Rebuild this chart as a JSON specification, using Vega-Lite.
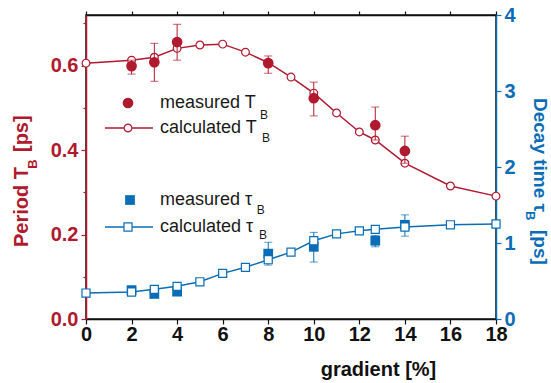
{
  "$schema": "https://vega.github.io/schema/vega-lite/v6.json",
  "width": 410,
  "height": 304,
  "autosize": {"type": "none"},
  "padding": {"left": 86, "top": 15, "right": 55, "bottom": 64},
  "background": "white",
  "config": {"view": {"stroke": "#111111", "strokeWidth": 1.5}, "font": "Liberation Sans", "axis": {"grid": false}},
  "datasets": {
    "calcT": [
      {"x": 0, "T": 0.606}, {"x": 2, "T": 0.613}, {"x": 3, "T": 0.620}, {"x": 4, "T": 0.641},
      {"x": 5, "T": 0.649}, {"x": 6, "T": 0.651}, {"x": 7, "T": 0.632}, {"x": 8, "T": 0.607},
      {"x": 9, "T": 0.573}, {"x": 10, "T": 0.535}, {"x": 11, "T": 0.488}, {"x": 12, "T": 0.443},
      {"x": 12.7, "T": 0.424}, {"x": 14, "T": 0.369}, {"x": 16, "T": 0.315}, {"x": 18, "T": 0.291}
    ],
    "measT": [
      {"x": 2, "T": 0.599, "lo": 0.580, "hi": 0.613},
      {"x": 3, "T": 0.608, "lo": 0.563, "hi": 0.653},
      {"x": 4, "T": 0.656, "lo": 0.613, "hi": 0.698},
      {"x": 8, "T": 0.606, "lo": 0.582, "hi": 0.623},
      {"x": 10, "T": 0.523, "lo": 0.481, "hi": 0.561},
      {"x": 12.7, "T": 0.459, "lo": 0.424, "hi": 0.502},
      {"x": 14, "T": 0.398, "lo": 0.369, "hi": 0.433}
    ],
    "calcTau": [
      {"x": 0, "tau": 0.342}, {"x": 2, "tau": 0.355}, {"x": 3, "tau": 0.39}, {"x": 4, "tau": 0.43},
      {"x": 5, "tau": 0.49}, {"x": 6, "tau": 0.60}, {"x": 7, "tau": 0.68}, {"x": 8, "tau": 0.78},
      {"x": 9, "tau": 0.88}, {"x": 10, "tau": 1.03}, {"x": 11, "tau": 1.12}, {"x": 12, "tau": 1.16},
      {"x": 12.7, "tau": 1.18}, {"x": 14, "tau": 1.21}, {"x": 16, "tau": 1.24}, {"x": 18, "tau": 1.25}
    ],
    "measTau": [
      {"x": 2, "tau": 0.38, "lo": null, "hi": null},
      {"x": 3, "tau": 0.33, "lo": null, "hi": null},
      {"x": 4, "tau": 0.36, "lo": null, "hi": null},
      {"x": 8, "tau": 0.86, "lo": 0.71, "hi": 1.01},
      {"x": 10, "tau": 0.95, "lo": 0.75, "hi": 1.14},
      {"x": 12.7, "tau": 1.03, "lo": 0.95, "hi": 1.10},
      {"x": 14, "tau": 1.24, "lo": 1.09, "hi": 1.37}
    ],
    "one": [{"k": 1}]
  },
  "layer": [
    {
      "layer": [
        {"data": {"name": "calcT"}, "mark": {"type": "line", "color": "#B0192E", "strokeWidth": 1.5},
          "encoding": {
            "x": {
              "field": "x", "type": "quantitative", "title": "gradient [%]",
              "scale": {"domain": [0, 18], "nice": false, "zero": false},
              "axis": {
                "orient": "bottom", "title": "gradient [%]",
                "values": [0,1,2,3,4,5,6,7,8,9,10,11,12,13,14,15,16,17,18],
                "labelExpr": "datum.value % 2 == 0 ? datum.label : ''",
                "tickSize": {"condition": {"test": "datum.value % 2 == 0", "value": 5}, "value": 3},
                "labelFont": "Liberation Sans", "labelFontSize": 20, "labelFontWeight": "bold", "labelColor": "#111111",
                "labelPadding": 0, "labelFlush": false, "labelOverlap": false,
                "domainColor": "#111111", "domainWidth": 1.5, "tickColor": "#111111", "tickWidth": 1.2,
                "titleFont": "Liberation Sans", "titleFontSize": 20, "titleFontWeight": "bold", "titleColor": "#111111",
                "titleX": 292, "titleAlign": "center", "titlePadding": 15
              }
            },
            "y": {
              "field": "T", "type": "quantitative", "title": null,
              "scale": {"domain": [0, 0.72], "nice": false, "zero": true},
              "axis": {
                "orient": "left", "title": null,
                "values": [0, 0.1, 0.2, 0.3, 0.4, 0.5, 0.6, 0.7],
                "labelExpr": "round(datum.value * 10) % 2 == 0 ? format(datum.value, '.1f') : ''",
                "tickSize": {"condition": {"test": "round(datum.value * 10) % 2 == 0", "value": 5}, "value": 3},
                "labelFont": "Liberation Sans", "labelFontSize": 20, "labelFontWeight": "bold", "labelColor": "#B0192E",
                "labelPadding": 3, "labelOverlap": false, "labelFlush": false,
                "domainColor": "#B0192E", "domainWidth": 1.5, "tickColor": "#B0192E", "tickWidth": 1.2
              }
            }
          }},
        {"data": {"name": "calcT"}, "mark": {"type": "point", "shape": "circle", "filled": true, "fill": "white", "stroke": "#B0192E", "strokeWidth": 1.2, "size": 60, "opacity": 1},
          "encoding": {"x": {"field": "x", "type": "quantitative", "title": "gradient [%]"}, "y": {"field": "T", "type": "quantitative", "title": null}}},
        {"data": {"name": "measT"}, "mark": {"type": "errorbar", "ticks": true, "color": "#B0192E", "thickness": 1, "size": 8},
          "encoding": {"x": {"field": "x", "type": "quantitative", "title": "gradient [%]"}, "y": {"field": "lo", "type": "quantitative", "title": null}, "y2": {"field": "hi"}}},
        {"data": {"name": "measT"}, "mark": {"type": "point", "shape": "circle", "filled": true, "color": "#B0192E", "size": 115, "opacity": 1},
          "encoding": {"x": {"field": "x", "type": "quantitative", "title": "gradient [%]"}, "y": {"field": "T", "type": "quantitative", "title": null}}},

        {"data": {"name": "one"}, "mark": {"type": "point", "shape": "circle", "filled": true, "color": "#B0192E", "size": 115, "opacity": 1},
          "encoding": {"x": {"datum": 1.844, "type": "quantitative"}, "y": {"datum": 0.5116, "type": "quantitative"}}},
        {"data": {"name": "one"}, "mark": {"type": "text", "text": "measured T", "align": "left", "baseline": "middle", "fontSize": 18, "color": "#1a1a1a"},
          "encoding": {"x": {"datum": 3.249, "type": "quantitative"}, "y": {"datum": 0.5116, "type": "quantitative"}}},
        {"data": {"name": "one"}, "mark": {"type": "text", "text": "B", "align": "left", "baseline": "middle", "fontSize": 12, "color": "#1a1a1a"},
          "encoding": {"x": {"datum": 7.64, "type": "quantitative"}, "y": {"datum": 0.483, "type": "quantitative"}}},
        {"data": {"name": "one"}, "mark": {"type": "rule", "color": "#B0192E", "strokeWidth": 1.5},
          "encoding": {"x": {"datum": 0.834, "type": "quantitative"}, "x2": {"datum": 2.941}, "y": {"datum": 0.4524, "type": "quantitative"}}},
        {"data": {"name": "one"}, "mark": {"type": "point", "shape": "circle", "filled": true, "fill": "white", "stroke": "#B0192E", "strokeWidth": 1.2, "size": 60, "opacity": 1},
          "encoding": {"x": {"datum": 1.844, "type": "quantitative"}, "y": {"datum": 0.4524, "type": "quantitative"}}},
        {"data": {"name": "one"}, "mark": {"type": "text", "text": "calculated T", "align": "left", "baseline": "middle", "fontSize": 18, "color": "#1a1a1a"},
          "encoding": {"x": {"datum": 3.249, "type": "quantitative"}, "y": {"datum": 0.4524, "type": "quantitative"}}},
        {"data": {"name": "one"}, "mark": {"type": "text", "text": "B", "align": "left", "baseline": "middle", "fontSize": 12, "color": "#1a1a1a"},
          "encoding": {"x": {"datum": 7.727, "type": "quantitative"}, "y": {"datum": 0.4287, "type": "quantitative"}}},

        {"data": {"name": "one"}, "mark": {"type": "point", "shape": "square", "filled": true, "color": "#0A6DB5", "size": 95, "opacity": 1},
          "encoding": {"x": {"datum": 1.932, "type": "quantitative"}, "y": {"datum": 0.2818, "type": "quantitative"}}},
        {"data": {"name": "one"}, "mark": {"type": "text", "text": "measured τ", "align": "left", "baseline": "middle", "fontSize": 18, "color": "#1a1a1a"},
          "encoding": {"x": {"datum": 3.249, "type": "quantitative"}, "y": {"datum": 0.2818, "type": "quantitative"}}},
        {"data": {"name": "one"}, "mark": {"type": "text", "text": "B", "align": "left", "baseline": "middle", "fontSize": 12, "color": "#1a1a1a"},
          "encoding": {"x": {"datum": 7.5, "type": "quantitative"}, "y": {"datum": 0.258, "type": "quantitative"}}},
        {"data": {"name": "one"}, "mark": {"type": "rule", "color": "#0A6DB5", "strokeWidth": 1.5},
          "encoding": {"x": {"datum": 0.834, "type": "quantitative"}, "x2": {"datum": 2.941}, "y": {"datum": 0.2179, "type": "quantitative"}}},
        {"data": {"name": "one"}, "mark": {"type": "point", "shape": "square", "filled": true, "fill": "white", "stroke": "#0A6DB5", "strokeWidth": 1.2, "size": 65, "opacity": 1},
          "encoding": {"x": {"datum": 1.844, "type": "quantitative"}, "y": {"datum": 0.2179, "type": "quantitative"}}},
        {"data": {"name": "one"}, "mark": {"type": "text", "text": "calculated τ", "align": "left", "baseline": "middle", "fontSize": 18, "color": "#1a1a1a"},
          "encoding": {"x": {"datum": 3.249, "type": "quantitative"}, "y": {"datum": 0.2179, "type": "quantitative"}}},
        {"data": {"name": "one"}, "mark": {"type": "text", "text": "B", "align": "left", "baseline": "middle", "fontSize": 12, "color": "#1a1a1a"},
          "encoding": {"x": {"datum": 7.6, "type": "quantitative"}, "y": {"datum": 0.199, "type": "quantitative"}}},

        {"data": {"name": "one"}, "mark": {"type": "text", "text": "Period T", "angle": 270, "align": "left", "baseline": "middle", "fontSize": 20, "fontWeight": "bold", "color": "#B0192E"},
          "encoding": {"x": {"datum": -2.81, "type": "quantitative"}, "y": {"datum": 0.1705, "type": "quantitative"}}},
        {"data": {"name": "one"}, "mark": {"type": "text", "text": "B", "angle": 270, "align": "center", "baseline": "middle", "fontSize": 13, "fontWeight": "bold", "color": "#B0192E"},
          "encoding": {"x": {"datum": -2.33, "type": "quantitative"}, "y": {"datum": 0.367, "type": "quantitative"}}},
        {"data": {"name": "one"}, "mark": {"type": "text", "text": "[ps]", "angle": 270, "align": "left", "baseline": "middle", "fontSize": 20, "fontWeight": "bold", "color": "#B0192E"},
          "encoding": {"x": {"datum": -2.81, "type": "quantitative"}, "y": {"datum": 0.3955, "type": "quantitative"}}}
      ]
    },
    {
      "layer": [
        {"data": {"name": "calcTau"}, "mark": {"type": "line", "color": "#0A6DB5", "strokeWidth": 1.5},
          "encoding": {
            "x": {
              "field": "x", "type": "quantitative", "title": null,
              "scale": {"domain": [0, 18], "nice": false, "zero": false},
              "axis": {
                "orient": "top", "title": null, "labelExpr": "''",
                "values": [0,1,2,3,4,5,6,7,8,9,10,11,12,13,14,15,16,17,18],
                "tickSize": 4, "domain": true, "ticks": true,
                "domainColor": "#111111", "domainWidth": 1.5, "tickColor": "#111111", "tickWidth": 1.2
              }
            },
            "y": {
              "field": "tau", "type": "quantitative", "title": null,
              "scale": {"domain": [0, 4], "nice": false, "zero": true},
              "axis": {
                "orient": "right", "title": null,
                "values": [0, 0.5, 1, 1.5, 2, 2.5, 3, 3.5, 4],
                "labelExpr": "datum.value % 1 == 0 ? format(datum.value, 'd') : ''",
                "tickSize": {"condition": {"test": "datum.value % 1 == 0", "value": 5}, "value": 3},
                "labelFont": "Liberation Sans", "labelFontSize": 20, "labelFontWeight": "bold", "labelColor": "#0A6DB5",
                "labelPadding": 3, "labelOverlap": false, "labelFlush": false,
                "domainColor": "#0A6DB5", "domainWidth": 1.5, "tickColor": "#0A6DB5", "tickWidth": 1.2
              }
            }
          }},
        {"data": {"name": "measTau"}, "transform": [{"filter": "isValid(datum.lo)"}],
          "mark": {"type": "errorbar", "ticks": true, "color": "#0A6DB5", "thickness": 1, "size": 8},
          "encoding": {"x": {"field": "x", "type": "quantitative", "title": null}, "y": {"field": "lo", "type": "quantitative", "title": null}, "y2": {"field": "hi"}}},
        {"data": {"name": "measTau"}, "mark": {"type": "point", "shape": "square", "filled": true, "color": "#0A6DB5", "size": 95, "opacity": 1},
          "encoding": {"x": {"field": "x", "type": "quantitative", "title": null}, "y": {"field": "tau", "type": "quantitative", "title": null}}},
        {"data": {"name": "calcTau"}, "mark": {"type": "point", "shape": "square", "filled": true, "fill": "white", "stroke": "#0A6DB5", "strokeWidth": 1.2, "size": 65, "opacity": 1},
          "encoding": {"x": {"field": "x", "type": "quantitative", "title": null}, "y": {"field": "tau", "type": "quantitative", "title": null}}},

        {"data": {"name": "one"}, "mark": {"type": "text", "text": "Decay time τ", "angle": 90, "align": "left", "baseline": "middle", "fontSize": 19, "fontWeight": "bold", "color": "#0A6DB5"},
          "encoding": {"x": {"datum": 19.93, "type": "quantitative"}, "y": {"datum": 2.908, "type": "quantitative"}}},
        {"data": {"name": "one"}, "mark": {"type": "text", "text": "B", "angle": 90, "align": "center", "baseline": "middle", "fontSize": 13, "fontWeight": "bold", "color": "#0A6DB5"},
          "encoding": {"x": {"datum": 19.5, "type": "quantitative"}, "y": {"datum": 1.36, "type": "quantitative"}}},
        {"data": {"name": "one"}, "mark": {"type": "text", "text": "[ps]", "angle": 90, "align": "left", "baseline": "middle", "fontSize": 19, "fontWeight": "bold", "color": "#0A6DB5"},
          "encoding": {"x": {"datum": 19.93, "type": "quantitative"}, "y": {"datum": 1.171, "type": "quantitative"}}}
      ]
    }
  ],
  "resolve": {"scale": {"x": "independent", "y": "independent"}, "axis": {"x": "independent", "y": "independent"}}
}
